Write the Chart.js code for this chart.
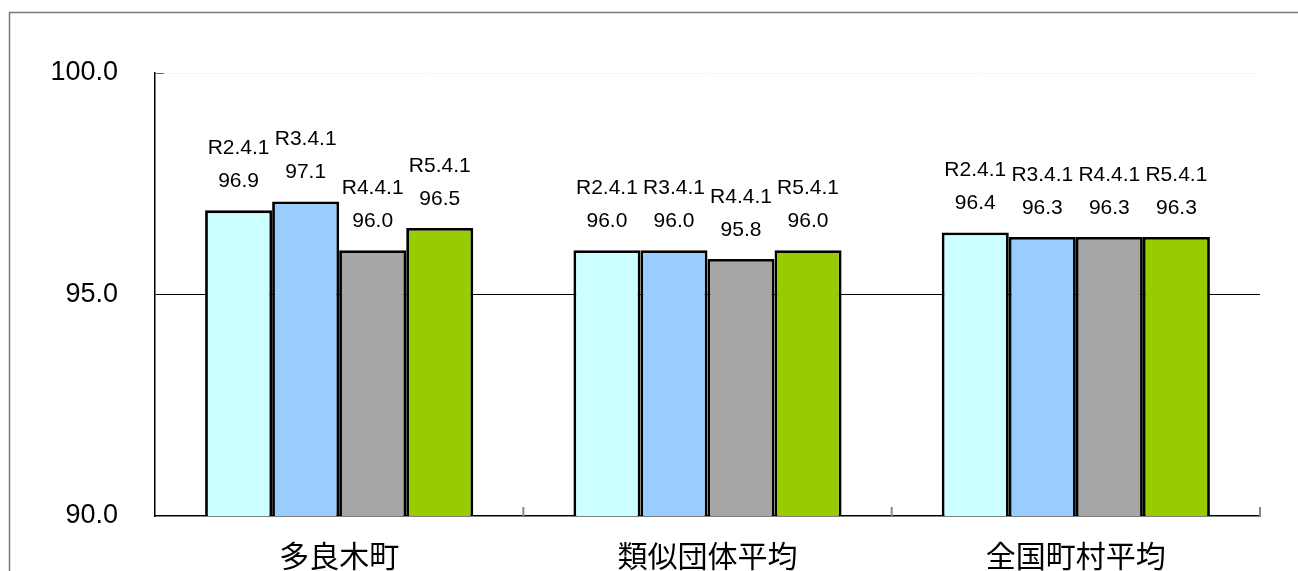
<!DOCTYPE html>
<html>
<head>
<meta charset="utf-8">
<script src="https://cdn.jsdelivr.net/npm/chart.js@4"></script>
<style>
  html, body { margin: 0; padding: 0; background: #fff; overflow: hidden; }
  #wrap { width: 1298px; height: 571px; position: relative; }
</style>
</head>
<body>
<div id="wrap"><canvas id="c" width="1298" height="571"></canvas></div>
<script>
// ---- data ----
const categories = ['多良木町', '類似団体平均', '全国町村平均'];
const seriesNames = ['R2.4.1', 'R3.4.1', 'R4.4.1', 'R5.4.1'];
const valuesR2 = [96.9, 96.0, 96.4];
const valuesR3 = [97.1, 96.0, 96.3];
const valuesR4 = [96.0, 95.8, 96.3];
const valuesR5 = [96.5, 96.0, 96.3];
const yTicks = [90, 95, 100];

// ---- styles ----
const seriesColors = ['#CCFFFF', '#99CCFF', '#A6A6A6', '#99CC00'];
const allValues = [valuesR2, valuesR3, valuesR4, valuesR5];

const datasets = allValues.map((vals, i) => ({
  label: seriesNames[i],
  data: vals,
  backgroundColor: seriesColors[i],
  borderColor: '#000',
  borderWidth: 2.8,
  borderSkipped: false,
  categoryPercentage: 0.728,
  barPercentage: 1.0
}));

const framePlugin = {
  id: 'frame',
  beforeDraw(chart) {
    const ctx = chart.ctx;
    ctx.save();
    ctx.fillStyle = '#fff';
    ctx.fillRect(0, 0, chart.width, chart.height);
    ctx.strokeStyle = '#777';
    ctx.lineWidth = 1.5;
    ctx.beginPath();
    ctx.moveTo(9.5, chart.height + 2);
    ctx.lineTo(9.5, 12.5);
    ctx.lineTo(chart.width + 2, 12.5);
    ctx.stroke();
    ctx.restore();
  }
};

const tickPlugin = {
  id: 'innerTicks',
  afterDraw(chart) {
    const ctx = chart.ctx;
    const xs = chart.scales.x, ys = chart.scales.y;
    const area = chart.chartArea;
    const n = categories.length;
    const half = (xs.getPixelForValue(1) - xs.getPixelForValue(0)) / 2;
    ctx.save();
    ctx.strokeStyle = '#888';
    ctx.lineWidth = 2;
    for (let i = 1; i <= n; i++) {
      const x = xs.getPixelForValue(0) - half + i * half * 2;
      ctx.beginPath();
      ctx.moveTo(x, area.bottom);
      ctx.lineTo(x, area.bottom - 9);
      ctx.stroke();
    }
    const yTop = ys.getPixelForValue(100);
    ctx.strokeStyle = '#666';
    ctx.lineWidth = 1;
    ctx.beginPath();
    ctx.moveTo(area.left, Math.round(yTop) + 0.5);
    ctx.lineTo(area.left + 9, Math.round(yTop) + 0.5);
    ctx.stroke();
    ctx.restore();
  }
};

const labelPlugin = {
  id: 'barLabels',
  afterDatasetsDraw(chart) {
    const ctx = chart.ctx;
    ctx.save();
    ctx.fillStyle = '#000';
    ctx.font = '21px "Liberation Sans", Arial, sans-serif';
    ctx.textAlign = 'center';
    ctx.textBaseline = 'middle';
    chart.data.datasets.forEach((ds, di) => {
      const meta = chart.getDatasetMeta(di);
      meta.data.forEach((bar, j) => {
        const v = ds.data[j];
        const yv = bar.y - 29;
        ctx.fillText(v.toFixed(1), bar.x, yv);
        ctx.fillText(ds.label, bar.x, yv - 33);
      });
    });
    ctx.restore();
  }
};

new Chart(document.getElementById('c'), {
  type: 'bar',
  data: { labels: categories, datasets },
  options: {
    responsive: false,
    animation: false,
    devicePixelRatio: 1,
    layout: { padding: { top: 73, right: 38, left: 0, bottom: 0 } },
    plugins: { legend: { display: false }, tooltip: { enabled: false } },
    scales: {
      x: {
        offset: true,
        grid: { display: false, drawTicks: false },
        border: { display: true, color: '#000', width: 1.5 },
        ticks: {
          color: '#000',
          padding: 22,
          font: { family: '"Noto Sans CJK JP", sans-serif', size: 30 }
        },
        afterFit(scale) { scale.height = 55; }
      },
      y: {
        min: 90,
        max: 100,
        afterBuildTicks(scale) { scale.ticks = yTicks.map(v => ({ value: v })); },
        grid: {
          drawTicks: false,
          color: ctx => (ctx.tick && ctx.tick.value === 95) ? '#000' : (ctx.tick && ctx.tick.value === 100 ? '#f6f6f6' : 'rgba(0,0,0,0)'),
          lineWidth: 1
        },
        border: { display: true, color: '#000', width: 1.5 },
        ticks: {
          color: '#000',
          padding: 37,
          font: { family: '"Liberation Sans", Arial, sans-serif', size: 27 },
          callback: v => Number(v).toFixed(1)
        },
        afterFit(scale) { scale.width = 155; }
      }
    }
  },
  plugins: [framePlugin, tickPlugin, labelPlugin]
});
</script>
</body>
</html>
